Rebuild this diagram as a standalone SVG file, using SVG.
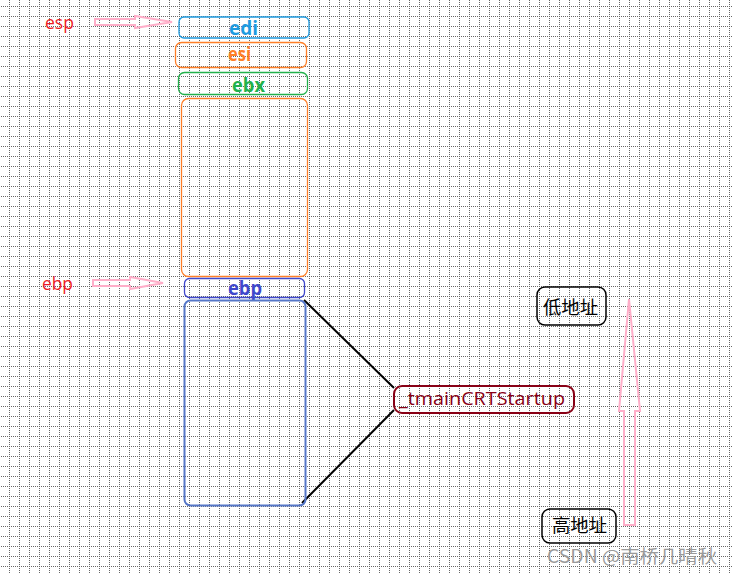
<svg xmlns="http://www.w3.org/2000/svg" width="733" height="573" viewBox="0 0 733 573">
<defs>
<pattern id="grid" x="0" y="0" width="10" height="10" patternUnits="userSpaceOnUse" patternTransform="translate(9,6)">
<line x1="0.5" y1="0" x2="0.5" y2="10" stroke="#666" stroke-width="1" stroke-dasharray="1 1"/>
<line x1="0" y1="0.5" x2="10" y2="0.5" stroke="#666" stroke-width="1" stroke-dasharray="1 1"/>
</pattern>
<style>
.reg{font-family:"Open Sans","Noto Sans","DejaVu Sans",sans-serif;font-weight:bold;font-size:19px}
.lbl{font-family:"Open Sans","Noto Sans",sans-serif;font-size:18px;fill:#ED1C24}
.cn{font-family:"Noto Sans CJK SC",sans-serif;font-size:18px;fill:#000}
.parrow{fill:none;stroke:#FFAEC9;stroke-width:2;stroke-linejoin:miter}
.box{fill:none;stroke-width:1.3}
</style>
</defs>
<rect width="733" height="573" fill="#fff"/>
<rect width="733" height="573" fill="url(#grid)"/>
<g id="connectors">
<line x1="304" y1="300" x2="394" y2="388" stroke="#000" stroke-width="2"/>
<line x1="302" y1="503" x2="394" y2="410" stroke="#000" stroke-width="2"/>
</g>
<g id="esp">
<text class="lbl" x="45" y="29" textLength="29" lengthAdjust="spacingAndGlyphs">esp</text>
<polygon class="parrow" points="95,19 135,19 135,16 172,22 135,28 135,25 95,25"/>
</g>
<g id="ebp-label">
<text class="lbl" x="42" y="290" textLength="31" lengthAdjust="spacingAndGlyphs">ebp</text>
<polygon class="parrow" points="93,280 130,280 130,277 163,283 130,289 130,286 93,286"/>
</g>
<g id="edi">
<rect class="box" x="179" y="17" width="130" height="21" rx="5" stroke="#1E9BE0"/>
<text class="reg" x="229" y="35" textLength="29" lengthAdjust="spacingAndGlyphs" fill="#1E9BE0">edi</text>
</g>
<g id="esi">
<rect class="box" x="175.5" y="42.5" width="131" height="25" rx="6" stroke="#FF7F27"/>
<text class="reg" x="228" y="61" textLength="23" lengthAdjust="spacingAndGlyphs" fill="#FF7F27">esi</text>
</g>
<g id="ebx">
<rect class="box" x="178.5" y="72.5" width="129" height="22" rx="6" stroke="#22B14C"/>
<text class="reg" x="232" y="92" textLength="33" lengthAdjust="spacingAndGlyphs" fill="#22B14C">ebx</text>
</g>
<g id="locals">
<rect class="box" x="181.5" y="98.5" width="126" height="178" rx="7" stroke="#FF7F27"/>
</g>
<g id="ebp">
<rect class="box" x="184.5" y="278.5" width="120" height="19" rx="5" stroke="#3F48CC"/>
<text class="reg" x="228" y="295" textLength="34" lengthAdjust="spacingAndGlyphs" fill="#3F48CC">ebp</text>
</g>
<g id="caller">
<rect x="184.5" y="300.5" width="121" height="205" rx="6" fill="none" stroke="#5577C8" stroke-width="2"/>
</g>
<g id="tmain">
<rect x="394" y="386" width="180" height="27" rx="8" fill="none" stroke="#880015" stroke-width="2"/>
<text x="399" y="405" font-family="'Open Sans','Noto Sans',sans-serif" font-size="18" fill="#880015" textLength="166" lengthAdjust="spacingAndGlyphs">_tmainCRTStartup</text>
</g>
<g id="low">
<rect x="537" y="287" width="69" height="38" rx="8" fill="none" stroke="#000" stroke-width="1.5"/>
<text class="cn" x="543" y="314" textLength="55" lengthAdjust="spacingAndGlyphs">低地址</text>
</g>
<g id="high">
<rect x="542" y="509" width="74" height="34" rx="8" fill="none" stroke="#000" stroke-width="1.5"/>
<text class="cn" x="552" y="532" textLength="55" lengthAdjust="spacingAndGlyphs">高地址</text>
</g>
<g id="uparrow">
<polygon class="parrow" points="629,299 640,411 635,411 635,525 624,525 624,411 619,411"/>
</g>
<text x="547" y="563" font-family="'Noto Sans CJK SC',sans-serif" font-size="18" fill="#9a9a9a" textLength="170" lengthAdjust="spacingAndGlyphs">CSDN @南桥几晴秋</text>
</svg>
